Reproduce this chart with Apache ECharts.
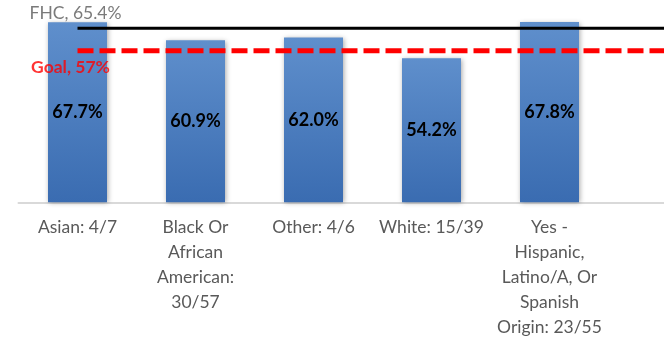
<!DOCTYPE html>
<html>
<head>
<meta charset="utf-8">
<script src="https://cdn.jsdelivr.net/npm/echarts@6/dist/echarts.min.js"></script>
<style>html,body{margin:0;padding:0;background:#fff}#c{width:664px;height:340px}</style>
</head>
<body>
<div id="c"></div>
<script>
var categories = ["Asian: 4/7", "Black Or\nAfrican\nAmerican:\n30/57", "Other: 4/6", "White: 15/39", "Yes -\nHispanic,\nLatino/A, Or\nSpanish\nOrigin: 23/55", ""];
var rates = [67.7, 60.9, 62.0, 54.2, 67.8, null];
var fhcValue = 65.4;
var goalValue = 57;
var fhcLine = [fhcValue, fhcValue, fhcValue, fhcValue, fhcValue, fhcValue];
var goalLine = [goalValue, goalValue, goalValue, goalValue, goalValue, goalValue];

var font = 'Lato, "Open Sans", sans-serif';
var chart = echarts.init(document.getElementById('c'));
chart.setOption({
  animation: false,
  grid: { left: 18.5, width: 708, top: 2.8, height: 199.5, containLabel: false, outerBoundsMode: 'none' },
  xAxis: {
    type: 'category',
    data: categories,
    axisLine: { show: true, lineStyle: { color: '#d9d9d9', width: 2 } },
    axisTick: { show: false },
    axisLabel: {
      interval: 0, margin: 13, color: '#595959', fontFamily: font,
      fontSize: 17.5, lineHeight: 25, align: 'center'
    }
  },
  yAxis: { type: 'value', min: 0, max: 75, show: false, splitLine: { show: false } },
  series: [
    {
      type: 'bar', data: rates, barWidth: 59, z: 2,
      itemStyle: {
        color: new echarts.graphic.LinearGradient(0, 0, 0, 1, [
          { offset: 0, color: '#5f8fcc' }, { offset: 1, color: '#3a6cb1' }
        ]),
        shadowColor: 'rgba(0,0,0,0.35)', shadowBlur: 5, shadowOffsetX: 1, shadowOffsetY: 1
      },
      label: {
        show: true, position: 'inside', color: '#000', fontWeight: 'bold',
        fontFamily: font, fontSize: 18,
        formatter: function (p) { return p.value.toFixed(1) + '%'; }
      }
    },
    {
      type: 'line', data: fhcLine, z: 5, symbol: 'none', silent: true,
      lineStyle: { color: '#000', width: 3 }
    },
    {
      type: 'line', data: goalLine, z: 6, symbol: 'none', silent: true,
      lineStyle: { color: '#ff0000', width: 5, type: [16, 6] }
    },
    {
      type: 'scatter', z: 7, symbolSize: 0, silent: true,
      data: [
        { value: [0, fhcValue], label: { show: true, position: 'top', distance: 6, offset: [-2, 0],
          formatter: 'FHC, ' + fhcValue + '%', color: '#595959', fontSize: 17.5, fontFamily: font } },
        { value: [0, goalValue], label: { show: true, position: 'bottom', distance: 8, offset: [-7, 0],
          formatter: 'Goal, ' + goalValue + '%', color: '#ff0000', fontWeight: 'bold', fontSize: 17.5, fontFamily: font } }
      ]
    }
  ]
});
</script>
</body>
</html>
